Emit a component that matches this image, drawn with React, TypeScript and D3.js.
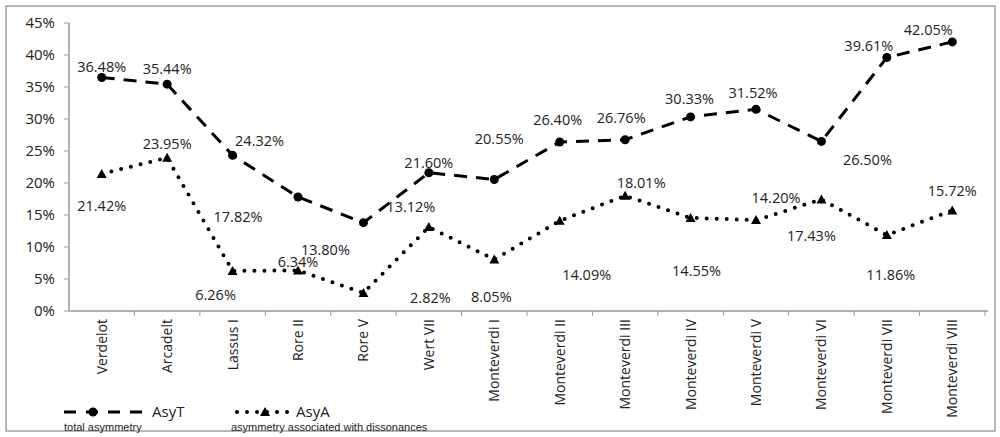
import * as d3 from "d3";
import React from "react";

const categories = ["Verdelot", "Arcadelt", "Lassus I", "Rore II", "Rore V", "Wert VII", "Monteverdi I", "Monteverdi II", "Monteverdi III", "Monteverdi IV", "Monteverdi V", "Monteverdi VI", "Monteverdi VII", "Monteverdi VIII"];
const asyT = [36.48, 35.44, 24.32, 17.82, 13.8, 21.6, 20.55, 26.4, 26.76, 30.33, 31.52, 26.5, 39.61, 42.05];
const asyA = [21.42, 23.95, 6.26, 6.34, 2.82, 13.12, 8.05, 14.09, 18.01, 14.55, 14.2, 17.43, 11.86, 15.72];
const yTicks = [0, 5, 10, 15, 20, 25, 30, 35, 40, 45];

// label placement relative to each point (dx, dy of the text baseline)
const asyTLabelOffsets: [number, number][] = [[0, -11], [0, -15], [27, -14], [-60, 20], [-38, 27], [0, -10], [5, -40], [-2, -22], [-4, -22], [-1, -18], [-3, -16], [46, 19], [-18, -11], [-24, -12]];
const asyALabelOffsets: [number, number][] = [[0, 32], [0, -14], [-17, 24], [0, -8], [67, 5], [-18, -20], [-3, 38], [27, 54], [16, -13], [6, 53], [20, -22], [-10, 37], [4, 40], [0, -19]];

const font = "'Open Sans', sans-serif";

export default function App() {
  const width = 1000, height = 437;
  const x = d3.scaleBand().domain(categories).range([69, 985]);
  const y = d3.scaleLinear().domain([0, 45]).range([311, 23]);
  const cx = (c: string) => (x(c) as number) + x.bandwidth() / 2;
  const line = d3.line<number>().x((_, i) => cx(categories[i])).y((d) => y(d));

  const labels = (vals: number[], offs: [number, number][]) =>
    vals.map((v, i) => {
      const [dx, dy] = offs[i];
      return (
        <text key={i} x={cx(categories[i]) + dx} y={y(v) + dy + 5} textAnchor="middle" fontSize={14.5} fontFamily={font} fill="#222">
          {v.toFixed(2)}%
        </text>
      );
    });

  return (
    <svg width={width} height={height} style={{ position: "absolute", left: 0, top: 0 }}>
      <rect x={0} y={0} width={width} height={height} fill="#fff" />
      <rect x={6} y={6} width={989} height={425} fill="none" stroke="#a0a0a0" strokeWidth={1.5} />
      <line x1={69} x2={69} y1={23} y2={311} stroke="#999" strokeWidth={1.5} />
      <line x1={69} x2={988} y1={311} y2={311} stroke="#999" strokeWidth={1.5} />
      {yTicks.map((t) => (
        <g key={t}>
          <line x1={64} x2={69} y1={y(t)} y2={y(t)} stroke="#999" />
          <text x={55} y={y(t) + 5} textAnchor="end" fontSize={15} fontFamily={font} fill="#222">{t}%</text>
        </g>
      ))}
      {categories.map((c) => (
        <g key={c}>
          <line x1={(x(c) as number) + x.bandwidth()} x2={(x(c) as number) + x.bandwidth()} y1={311} y2={316} stroke="#999" />
          <text transform={`translate(${cx(c) + 5},${319}) rotate(-90)`} textAnchor="end" fontSize={14} fontFamily={font} fill="#222">{c}</text>
        </g>
      ))}
      <path d={line(asyT) as string} fill="none" stroke="#000" strokeWidth={3} strokeDasharray="13,9" />
      <path d={line(asyA) as string} fill="none" stroke="#000" strokeWidth={4} strokeDasharray="0,10" strokeLinecap="round" />
      {asyT.map((v, i) => <circle key={i} cx={cx(categories[i])} cy={y(v)} r={4.5} fill="#000" />)}
      {asyA.map((v, i) => {
        const px = cx(categories[i]), py = y(v);
        return <path key={i} d={`M${px},${py - 5}L${px + 5},${py + 4}L${px - 5},${py + 4}Z`} fill="#000" />;
      })}
      {labels(asyT, asyTLabelOffsets)}
      {labels(asyA, asyALabelOffsets)}
      <g>
        <line x1={64} x2={150} y1={412} y2={412} stroke="#000" strokeWidth={3} strokeDasharray="12,10" />
        <circle cx={93} cy={412} r={4.5} />
        <text x={152} y={417} fontSize={15} fontFamily={font} fill="#222">AsyT</text>
        <text x={64} y={431} fontSize={11} fontFamily="'Liberation Sans', Arial" fill="#222">total asymmetry</text>
        <line x1={237} x2={292} y1={412} y2={412} stroke="#000" strokeWidth={4} strokeDasharray="0,10" strokeLinecap="round" />
        <path d="M265,407L270,416L260,416Z" />
        <text x={296} y={417} fontSize={15} fontFamily={font} fill="#222">AsyA</text>
        <text x={231} y={431} fontSize={11} fontFamily="'Liberation Sans', Arial" fill="#222">asymmetry associated with dissonances</text>
      </g>
    </svg>
  );
}
